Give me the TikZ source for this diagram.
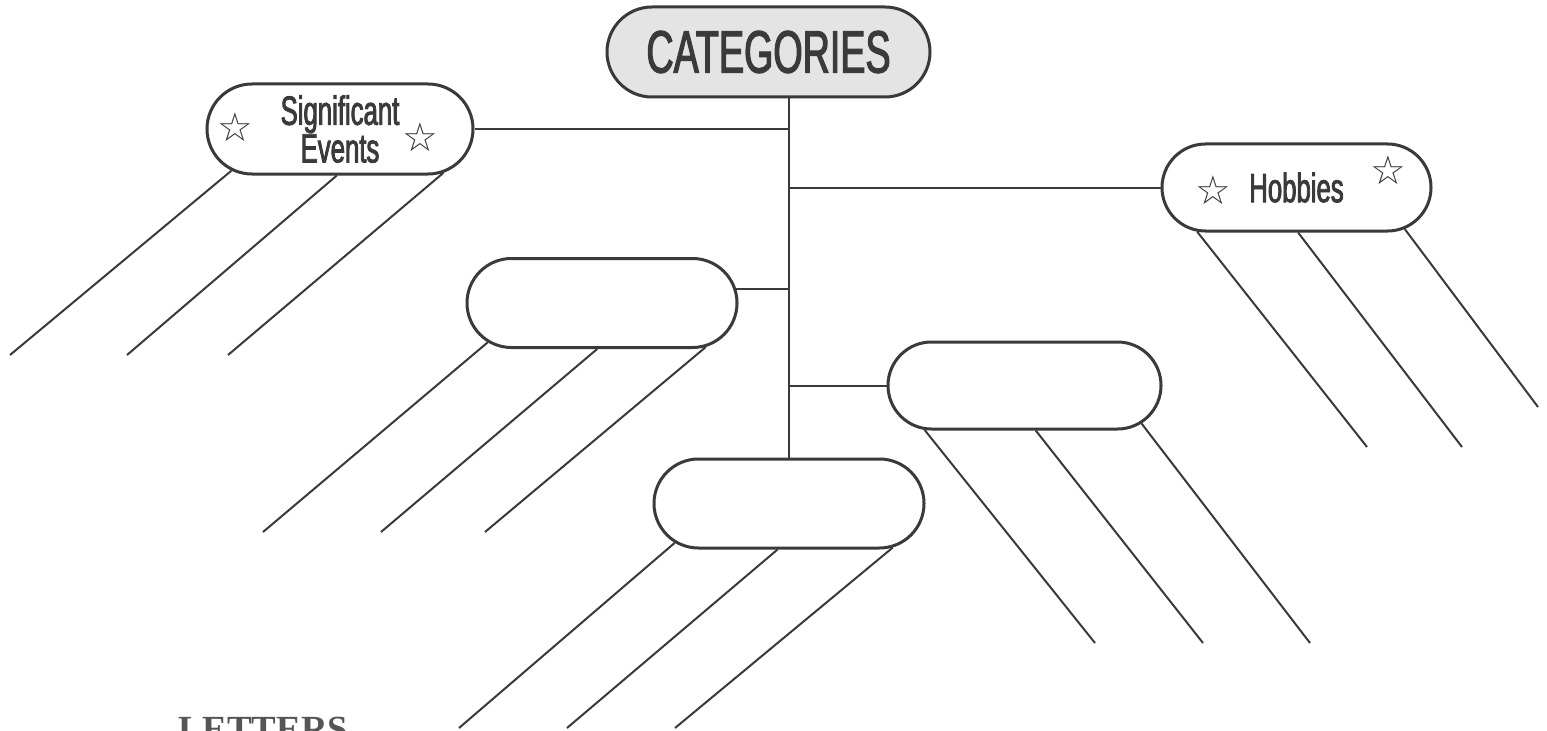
\documentclass[tikz,border=0pt]{standalone}
\usepackage{fontspec}
\setmainfont{Liberation Sans}
\newfontfamily\condfont[FakeStretch=0.63,FakeBold=2]{Liberation Sans}
\newfontfamily\starfont{DejaVu Sans}
\newfontfamily\letfont{Liberation Serif}
\usetikzlibrary{shapes.misc}
\definecolor{ink}{HTML}{3A3A3A}
\definecolor{catfill}{HTML}{E4E4E4}
\definecolor{letgray}{HTML}{555555}
\begin{document}
\begin{tikzpicture}[x=1bp,y=-1bp,
  pill/.style={rounded rectangle, draw=ink, line width=3bp, fill=white,
    minimum width=270bp, minimum height=89bp, inner sep=0pt},
  leg/.style={draw=ink, line width=2bp},
  link/.style={draw=ink, line width=2bp},
  lbl/.style={text=ink, font=\condfont\fontsize{41}{36}\selectfont, align=center},
  star/.style={text=ink, font=\starfont\fontsize{40}{40}\selectfont, inner sep=0pt}]
\path[use as bounding box, clip] (0,0) rectangle (1547,731);
\fill[white] (0,0) rectangle (1547,731);

% nodes
\node[pill, fill=catfill, minimum width=323bp, minimum height=90bp,
      text=ink, font=\condfont\fontsize{60}{60}\selectfont] (cat) at (768.5,52) {CATEGORIES};
\node[pill, minimum width=266bp, minimum height=90bp, lbl] (sig) at (340,129) {Significant\\Events};
\node[pill, minimum width=269bp, minimum height=87bp, lbl] (hob) at (1296.5,187.5) {Hobbies};
\node[pill] (b1) at (602,303) {};
\node[pill, minimum width=273bp, minimum height=87bp] (b2) at (1024.5,385.5) {};
\node[pill] (b3) at (789,503.5) {};

% stars
\node[star] (s1) at (235,127) {☆};
\node[star] (s2) at (420,137) {☆};
\node[star] (s3) at (1213,190) {☆};
\node[star] (s4) at (1388,170) {☆};

% trunk and branches
\draw[link] (cat.south -| b3.north) -- (b3.north);
\draw[link] (sig.east) -- (sig.east -| b3.north);
\draw[link] (hob.west) -- (hob.west -| b3.north);
\draw[link] (b1.6) -- (b1.6 -| b3.north);
\draw[link] (b2.west) -- (b2.west -| b3.north);

% legs
\coordinate (e1) at (10,355);   \coordinate (e2) at (127,355);  \coordinate (e3) at (228,355);
\coordinate (e4) at (263,532);  \coordinate (e5) at (381,532);  \coordinate (e6) at (485,532);
\coordinate (e7) at (459,728);  \coordinate (e8) at (567,728);  \coordinate (e9) at (675,728);
\coordinate (e10) at (1095,643); \coordinate (e11) at (1203,643); \coordinate (e12) at (1310,643);
\coordinate (e13) at (1367,447); \coordinate (e14) at (1462,447); \coordinate (e15) at (1538,407);

\draw[leg] (sig.201) -- (e1);
\draw[leg] (sig.266) -- (e2);
\draw[leg] (sig.337) -- (e3);
\draw[leg] (b1.199) -- (e4);
\draw[leg] (b1.264) -- (e5);
\draw[leg] (b1.337) -- (e6);
\draw[leg] (b3.199) -- (e7);
\draw[leg] (b3.256) -- (e8);
\draw[leg] (b3.337) -- (e9);
\draw[leg] (b2.204) -- (e10);
\draw[leg] (b2.284) -- (e11);
\draw[leg] (b2.342) -- (e12);
\draw[leg] (hob.204) -- (e13);
\draw[leg] (hob.272) -- (e14);
\draw[leg] (hob.339) -- (e15);

% cut-off heading at the bottom (the reference shows only its top)
\node[anchor=base west, inner sep=0pt, text=letgray,
      font=\letfont\bfseries\fontsize{37}{37}\selectfont] (letters) at (178,741.5) {LETTERS};
\end{tikzpicture}
\end{document}
